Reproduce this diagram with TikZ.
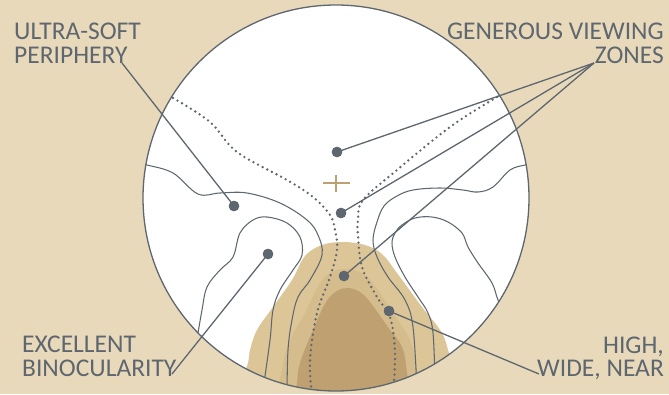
\documentclass[tikz,border=0pt]{standalone}
\usepackage{fontspec}
\setmainfont{Carlito}
\definecolor{bg}{RGB}{232,217,186}
\definecolor{ink}{RGB}{94,102,112}
\definecolor{tanA}{RGB}{220,198,152}
\definecolor{tanB}{RGB}{212,188,140}
\definecolor{tanC}{RGB}{191,161,113}
\tikzset{
  lbl/.style={font=\fontsize{25.5}{24}\selectfont, text=ink, inner sep=0pt},
  contour/.style={draw=ink, line width=1.05pt},
  dotline/.style={draw=ink, line width=2.6pt, line cap=round, dash pattern=on 0pt off 5.2pt},
  leader/.style={draw=ink, line width=1.3pt},
  spot/.style={circle, fill=ink, inner sep=0pt, minimum size=10.5pt},
}
\begin{document}
\begin{tikzpicture}[x=1pt,y=-1pt]
\useasboundingbox (0,0) rectangle (669,394);
\fill[bg] (0,0) rectangle (669,394);
\fill[white] (336,198) circle (193);
\begin{scope}
  \clip (336,198) circle (193);
  \fill[tanA] plot[smooth cycle, tension=0.6] coordinates {(236,420) (248,363) (250,350) (257,330) (273,307) (292,280) (305,256) (322,245) (343,242) (365,245) (382,254) (397,273) (422,307) (440,330) (448,350) (458,400) (350,430)};
  \fill[tanB] plot[smooth cycle, tension=0.6] coordinates {(278,420) (282,370) (290,340) (305,313) (320,283) (332,272) (345,269) (360,272) (372,282) (393,313) (410,340) (417,370) (420,420) (350,430)};
  \fill[tanC] plot[smooth cycle, tension=0.6] coordinates {(294,420) (297,383) (300,363) (313,330) (326,302) (337,291) (348,288) (360,292) (370,302) (388,327) (402,347) (407,373) (410,420) (350,430)};
  \draw[contour] plot[smooth, tension=0.6] coordinates {(138,163) (147,165) (173,173) (198,194) (220,193) (247,193) (280,203) (307,220) (318,235) (322,255) (310,280) (298,297) (292,320) (288,350) (287,395)};
  \draw[contour] plot[smooth, tension=0.6] coordinates {(196,345) (202,310) (207,287) (220,270) (233,257) (240,233) (253,220) (267,217) (287,223) (300,237) (302,255) (293,270) (280,290) (273,310) (270,340) (263,390)};
  \draw[contour] plot[smooth, tension=0.6] coordinates {(535,163) (525,165) (510,170) (493,187) (478,192) (463,190) (440,188) (413,190) (397,196) (384,206) (377,222) (373,240) (377,257) (388,277) (405,300) (413,327) (417,390)};
  \draw[contour] plot[smooth, tension=0.6] coordinates {(505,312) (498,300) (492,283) (478,263) (468,247) (462,233) (448,222) (432,217) (415,218) (402,225) (395,233) (392,243) (395,257) (405,277) (418,297) (428,313) (433,333) (435,380)};
  \draw[dotline] plot[smooth, tension=0.6] coordinates {(173,98) (210,122) (237,152) (287,180) (313,197) (330,215) (335,230) (337,250) (330,277) (317,313) (310,360) (312,395)};
  \draw[dotline] plot[smooth, tension=0.6] coordinates {(497,97) (463,118) (437,137) (397,170) (363,200) (358,220) (358,235) (362,267) (377,297) (390,317) (395,353) (393,395)};
\end{scope}
\draw[ink, line width=1.3pt] (336,198) circle (193);
% plus
\draw[tanC, line width=1.9pt] (323,183) -- (350,183) (336,174.5) -- (336,192);
% texts
\node[lbl, anchor=base west] (t1a) at (14,39) {ULTRA-SOFT};
\node[lbl, anchor=base west] (t1b) at (14,63) {PERIPHERY};
\node[lbl, anchor=base east] (t2a) at (664,39) {GENEROUS VIEWING};
\node[lbl, anchor=base east] (t2b) at (664,63) {ZONES};
\node[lbl, anchor=base west] (t3a) at (22,352) {EXCELLENT};
\node[lbl, anchor=base west] (t3b) at (22,376) {BINOCULARITY};
\node[lbl, anchor=base east] (t4a) at (664,353) {HIGH,};
\node[lbl, anchor=base east] (t4b) at (664,376) {WIDE, NEAR};
% leader ends
\coordinate (e1) at (122,63);
\coordinate (e2) at (594,63);
\coordinate (e3) at (172,374);
\coordinate (e4) at (539,374);
% dots
\node[spot] (d1) at (234,206) {};
\node[spot] (d2) at (337,152) {};
\node[spot] (d3) at (341,213) {};
\node[spot] (d4) at (344,276) {};
\node[spot] (d5) at (268,254) {};
\node[spot] (d6) at (389,311) {};
\draw[leader] (e1) -- (d1.center);
\draw[leader] (e2) -- (d2.center);
\draw[leader] (e2) -- (d3.center);
\draw[leader] (e2) -- (d4.center);
\draw[leader] (e3) -- (d5.center);
\draw[leader] (e4) -- (d6.center);
\foreach \d in {d1,d2,d3,d4,d5,d6} \fill[ink] (\d) circle (5.2);
\end{tikzpicture}
\end{document}
